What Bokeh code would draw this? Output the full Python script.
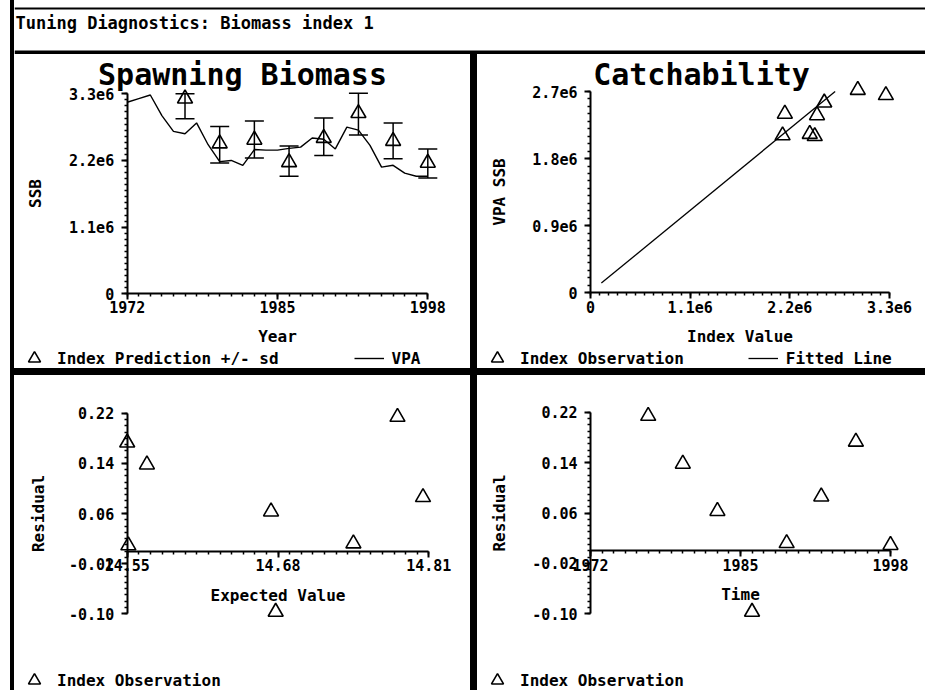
import numpy as np
from bokeh.embed import file_html
from bokeh.layouts import column, row
from bokeh.models import (ColumnDataSource, Div, FixedTicker, Label, Legend,
                          LegendItem, Range1d, Spacer, Span)
from bokeh.plotting import figure
from bokeh.resources import INLINE

FONT = "DejaVu Sans Mono"

# VPA spawning stock biomass, one value per year
years = list(range(1972, 1999))
vpa_ssb = [3.16e6, 3.22e6, 3.28e6, 2.94e6, 2.68e6, 2.64e6, 2.82e6, 2.46e6, 2.18e6,
           2.20e6, 2.12e6, 2.38e6, 2.37e6, 2.37e6, 2.40e6, 2.42e6, 2.57e6, 2.55e6,
           2.39e6, 2.75e6, 2.70e6, 2.45e6, 2.09e6, 2.12e6, 1.99e6, 1.94e6, 1.94e6]

# biomass index 1: survey years, predicted SSB and +/- sd band
index_years = [1977, 1980, 1983, 1986, 1989, 1992, 1995, 1998]
pred_ssb = [3.22e6, 2.48e6, 2.54e6, 2.17e6, 2.57e6, 2.98e6, 2.52e6, 2.16e6]
pred_lower = [2.89e6, 2.16e6, 2.24e6, 1.94e6, 2.28e6, 2.62e6, 2.23e6, 1.91e6]
pred_upper = [3.30e6, 2.76e6, 2.85e6, 2.44e6, 2.90e6, 3.31e6, 2.82e6, 2.39e6]

# catchability: index observations against VPA SSB, with the fitted line
index_value = [2.145e6, 2.12e6, 2.42e6, 2.475e6, 2.50e6, 2.58e6, 2.95e6, 3.26e6]
obs_vpa_ssb = [2.40e6, 2.11e6, 2.13e6, 2.10e6, 2.38e6, 2.55e6, 2.72e6, 2.65e6]
fit_index = [0.12e6, 2.70e6]
fit_vpa = [0.13e6, 2.70e6]

# log residuals of the index
residuals = [0.214, 0.138, 0.063, -0.097, 0.012, 0.086, 0.173, 0.009]
expected_value = [14.783, 14.567, 14.674, 14.678, 14.745, 14.805, 14.550, 14.551]

# axis ticks and their labels
year_ticks = [1972, 1985, 1998]
year_labels = ["1972", "1985", "1998"]
ssb_ticks = [0, 1.1e6, 2.2e6, 3.3e6]
ssb_labels = ["0", "1.1e6", "2.2e6", "3.3e6"]
index_ticks = [0, 1.1e6, 2.2e6, 3.3e6]
index_labels = ["0", "1.1e6", "2.2e6", "3.3e6"]
vpa_ticks = [0, 0.9e6, 1.8e6, 2.7e6]
vpa_labels = ["0", "0.9e6", "1.8e6", "2.7e6"]
resid_ticks = [-0.10, -0.02, 0.06, 0.14, 0.22]
resid_labels = ["-0.10", "-0.02", "0.06", "0.14", "0.22"]
expected_ticks = [14.55, 14.68, 14.81]
expected_labels = ["14.55", "14.68", "14.81"]

year_minor = list(range(1972, 1999))
ssb_minor = list(np.round(np.arange(0, 3.3e6 + 1, 1e5)))
vpa_minor = list(np.round(np.arange(0, 2.7e6 + 1, 1e5)))
resid_minor = list(np.round(np.arange(-0.10, 0.2201, 0.01), 2))
expected_minor = list(np.round(np.arange(14.55, 14.8101, 0.01), 2))


def padded_range(lo, hi, px_before, px_span, px_after):
    # widen a data range so that [lo, hi] covers px_span pixels of the frame
    per_px = (hi - lo) / px_span
    return Range1d(lo - px_before * per_px, hi + px_after * per_px)


def make_panel(width, height, x_range, y_range):
    # the frame fills the whole panel; axes are pinned at fixed positions in it
    p = figure(width=width, height=height, x_range=x_range, y_range=y_range,
               output_backend="svg", toolbar_location=None, title=None, min_border=0)
    p.outline_line_color = None
    p.xgrid.visible = False
    p.ygrid.visible = False
    p.background_fill_color = "white"
    p.border_fill_color = "white"
    return p


def style_axis(axis, ticks, labels, minor, name, tick_standoff, name_standoff,
               at, bounds):
    axis.ticker = FixedTicker(ticks=ticks, minor_ticks=minor)
    axis.major_label_overrides = dict(zip(ticks, labels))
    axis.fixed_location = at
    axis.bounds = bounds
    axis.axis_label = name
    axis.axis_line_color = "black"
    axis.axis_line_width = 2
    axis.major_tick_line_color = "black"
    axis.major_tick_line_width = 2
    axis.major_tick_out = 6
    axis.major_tick_in = 0
    axis.minor_tick_line_color = "black"
    axis.minor_tick_line_width = 1.5
    axis.minor_tick_out = 3
    axis.minor_tick_in = 0
    axis.major_label_text_font = FONT
    axis.major_label_text_font_style = "bold"
    axis.major_label_text_font_size = "15px"
    axis.major_label_text_color = "black"
    axis.major_label_standoff = tick_standoff
    axis.axis_label_text_font = FONT
    axis.axis_label_text_font_style = "bold"
    axis.axis_label_text_font_size = "16px"
    axis.axis_label_text_color = "black"
    axis.axis_label_standoff = name_standoff


def panel_title(p, text, x, y):
    p.add_layout(Label(x=x, y=y, x_units="screen", y_units="screen", text=text,
                       text_font=FONT, text_font_style="bold", text_font_size="30px",
                       text_align="center", text_baseline="alphabetic",
                       text_color="black"))


def panel_legend(p, items, dx, dy, spacing):
    p.add_layout(Legend(items=items, orientation="horizontal", location=(dx, dy),
                        spacing=spacing, padding=0, margin=0, label_standoff=8,
                        glyph_width=30, glyph_height=30, border_line_color=None,
                        background_fill_alpha=0, label_text_font=FONT,
                        label_text_font_style="bold", label_text_font_size="16px",
                        label_text_color="black"))


def triangles(p, source, x, y):
    return p.scatter(x, y, source=source, marker="triangle", size=15,
                     fill_color=None, line_color="black", line_width=1.6)


# ---- Spawning Biomass -------------------------------------------------------
ssb_src = ColumnDataSource(dict(year=years, ssb=vpa_ssb))
pred_src = ColumnDataSource(dict(year=index_years, pred=pred_ssb,
                                 lower=pred_lower, upper=pred_upper))

p1 = make_panel(456, 314, padded_range(1972, 1998, 112.7, 300.6, 42.7),
                padded_range(0, 3.3e6, 74.7, 200.0, 39.3))
vpa_line = p1.line("year", "ssb", source=ssb_src, line_color="black", line_width=1.4)
p1.segment(x0="year", y0="lower", x1="year", y1="upper", source=pred_src,
           line_color="black", line_width=1.5)
p1.scatter("year", "lower", source=pred_src, marker="dash", size=19,
           line_color="black", line_width=1.5)
p1.scatter("year", "upper", source=pred_src, marker="dash", size=19,
           line_color="black", line_width=1.5)
pred_tri = triangles(p1, pred_src, "year", "pred")
style_axis(p1.xaxis[0], year_ticks, year_labels, year_minor, "Year", 1, 11,
           0, (1972, 1998))
style_axis(p1.yaxis[0], ssb_ticks, ssb_labels, ssb_minor, "SSB", 7, 21,
           1972, (0, 3.3e6))
panel_title(p1, "Spawning Biomass", 228, 294)
panel_legend(p1, [LegendItem(label="Index Prediction +/- sd", renderers=[pred_tri]),
                  LegendItem(label="VPA", renderers=[vpa_line])], 5, -5, 75)

# ---- Catchability -----------------------------------------------------------
obs_src = ColumnDataSource(dict(index=index_value, vpa=obs_vpa_ssb))
fit_src = ColumnDataSource(dict(index=fit_index, vpa=fit_vpa))

p2 = make_panel(448, 314, padded_range(0, 3.3e6, 113, 299, 36),
                padded_range(0, 2.7e6, 75.7, 201.3, 37))
fit_line = p2.line("index", "vpa", source=fit_src, line_color="black", line_width=1.3)
obs_tri = triangles(p2, obs_src, "index", "vpa")
style_axis(p2.xaxis[0], index_ticks, index_labels, ssb_minor, "Index Value", 2, 11,
           0, (0, 3.3e6))
style_axis(p2.yaxis[0], vpa_ticks, vpa_labels, vpa_minor, "VPA SSB", 7, 20,
           0, (0, 2.7e6))
panel_title(p2, "Catchability", 224, 294)
panel_legend(p2, [LegendItem(label="Index Observation", renderers=[obs_tri]),
                  LegendItem(label="Fitted Line", renderers=[fit_line])], 5, -5, 64)

# ---- Residuals against expected value --------------------------------------
res_src = ColumnDataSource(dict(year=index_years, expected=expected_value,
                                resid=residuals))

p3 = make_panel(456, 315, padded_range(14.55, 14.81, 112.7, 301.6, 41.7),
                padded_range(-0.10, 0.22, 76.7, 200.6, 37.7))
res_tri = triangles(p3, res_src, "expected", "resid")
style_axis(p3.xaxis[0], expected_ticks, expected_labels, expected_minor,
           "Expected Value", 2, 11, 0, (14.55, 14.81))
style_axis(p3.yaxis[0], resid_ticks, resid_labels, resid_minor, "Residual", 7, 18,
           14.55, (-0.10, 0.22))
panel_legend(p3, [LegendItem(label="Index Observation", renderers=[res_tri])], 5, -5, 0)

# ---- Residuals over time ----------------------------------------------------
p4 = make_panel(448, 315, padded_range(1972, 1998, 113, 300, 35),
                padded_range(-0.10, 0.22, 76.7, 201.6, 36.7))
time_tri = triangles(p4, res_src, "year", "resid")
style_axis(p4.xaxis[0], year_ticks, year_labels, year_minor, "Time", 2, 11,
           0, (1972, 1998))
style_axis(p4.yaxis[0], resid_ticks, resid_labels, resid_minor, "Residual", 7, 20,
           1972, (-0.10, 0.22))
panel_legend(p4, [LegendItem(label="Index Observation", renderers=[time_tri])], 5, -5, 0)

# ---- Header box -------------------------------------------------------------
header = figure(width=911, height=54, x_range=Range1d(0, 911), y_range=Range1d(0, 54),
                x_axis_type=None, y_axis_type=None, output_backend="svg",
                toolbar_location=None, title=None, min_border=0)
header.outline_line_color = None
header.border_fill_color = "white"
header.add_layout(Span(location=46, dimension="width", line_color="black", line_width=2))
header.add_layout(Span(location=2, dimension="width", line_color="black", line_width=4))
header.add_layout(Label(x=1, y=32, x_units="screen", y_units="screen",
                        text="Tuning Diagnostics: Biomass index 1", text_font=FONT,
                        text_font_style="bold", text_font_size="17px",
                        text_color="black", text_baseline="alphabetic"))


def rule(width, height):
    return Div(width=width, height=height, margin=0,
               styles={"background-color": "black"})


page = row(
    Spacer(width=10, height=690),
    rule(4, 690),
    column(
        header,
        row(p1, rule(7, 314), p2),
        rule(911, 7),
        row(p3, rule(7, 315), p4),
    ),
)

open("out.html", "w").write(file_html(page, INLINE))
